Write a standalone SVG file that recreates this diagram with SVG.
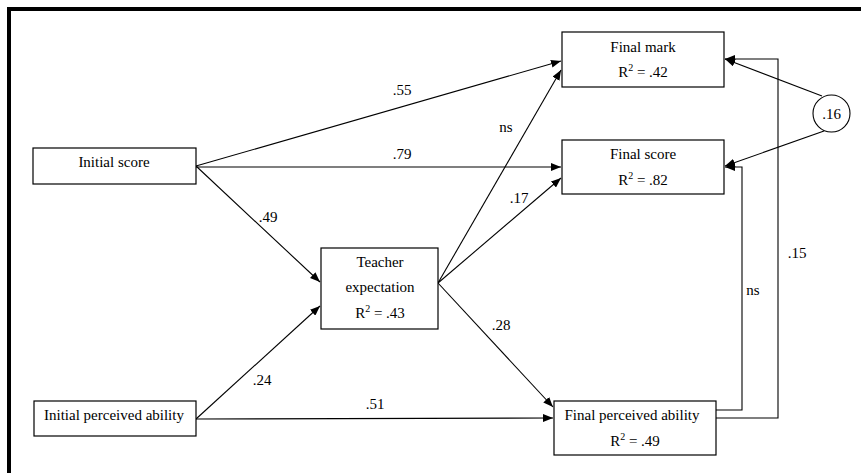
<svg xmlns="http://www.w3.org/2000/svg" width="861" height="473" viewBox="0 0 861 473">
<style>
.box{fill:#fff;stroke:#000;stroke-width:1.2}
.t{font-family:"Liberation Serif","Times New Roman",serif;font-size:15px;fill:#000}
.c{text-anchor:middle}
.ln{fill:none;stroke:#000;stroke-width:1.1}
.sup{font-size:10px}
</style>
<defs>
<marker id="ah" markerUnits="userSpaceOnUse" markerWidth="10" markerHeight="8" refX="10" refY="4" orient="auto">
<path d="M0,0 L10,4 L0,8 z" fill="#000"/>
</marker>
</defs>
<rect width="861" height="473" fill="#fff"/>
<path d="M9,473 V9 H861" fill="none" stroke="#000" stroke-width="4"/>
<g id="connectors">
<line class="ln" x1="196" y1="166" x2="561" y2="61" marker-end="url(#ah)"/>
<line class="ln" x1="196" y1="167" x2="561" y2="167" marker-end="url(#ah)"/>
<line class="ln" x1="196" y1="166" x2="320" y2="282" marker-end="url(#ah)"/>
<line class="ln" x1="196" y1="419" x2="320" y2="306" marker-end="url(#ah)"/>
<line class="ln" x1="196" y1="419" x2="553" y2="418" marker-end="url(#ah)"/>
<line class="ln" x1="438" y1="283" x2="561" y2="70" marker-end="url(#ah)"/>
<line class="ln" x1="438" y1="283" x2="561" y2="178" marker-end="url(#ah)"/>
<line class="ln" x1="438" y1="283" x2="553" y2="407" marker-end="url(#ah)"/>
<line class="ln" x1="822" y1="96" x2="725" y2="59" marker-end="url(#ah)"/>
<line class="ln" x1="824" y1="131" x2="725" y2="166" marker-end="url(#ah)"/>
<polyline class="ln" points="716,410 742,410 742,167 725,167" marker-end="url(#ah)"/>
<polyline class="ln" points="716,418 778,418 778,59 725,59" marker-end="url(#ah)"/>
<text class="t c" x="402" y="95">.55</text>
<text class="t c" x="402" y="159">.79</text>
<text class="t c" x="506" y="132">ns</text>
<text class="t c" x="268" y="222">.49</text>
<text class="t c" x="519" y="203">.17</text>
<text class="t c" x="501" y="330">.28</text>
<text class="t c" x="262" y="385">.24</text>
<text class="t c" x="375" y="409">.51</text>
<text class="t c" x="753" y="295">ns</text>
<text class="t c" x="797" y="258">.15</text>
</g>
<g id="initial-score">
<rect class="box" x="33" y="148" width="163" height="36"/>
<text class="t c" x="114" y="167">Initial score</text>
</g>
<g id="initial-perceived-ability">
<rect class="box" x="34" y="401" width="162" height="35"/>
<text class="t c" x="114" y="420">Initial perceived ability</text>
</g>
<g id="teacher-expectation">
<rect class="box" x="321" y="248" width="117" height="81"/>
<text class="t c" x="380" y="267">Teacher</text>
<text class="t c" x="380" y="292">expectation</text>
<text class="t c" x="380" y="318">R<tspan class="sup" dy="-6">2</tspan><tspan dy="6"> = .43</tspan></text>
</g>
<g id="final-mark">
<rect class="box" x="562" y="32" width="162" height="55"/>
<text class="t c" x="643" y="52">Final mark</text>
<text class="t c" x="643" y="77">R<tspan class="sup" dy="-6">2</tspan><tspan dy="6"> = .42</tspan></text>
</g>
<g id="final-score">
<rect class="box" x="562" y="140" width="162" height="54"/>
<text class="t c" x="643" y="159">Final score</text>
<text class="t c" x="643" y="185">R<tspan class="sup" dy="-6">2</tspan><tspan dy="6"> = .82</tspan></text>
</g>
<g id="final-perceived-ability">
<rect class="box" x="554" y="401" width="162" height="54"/>
<text class="t c" x="632" y="420">Final perceived ability</text>
<text class="t c" x="635" y="446">R<tspan class="sup" dy="-6">2</tspan><tspan dy="6"> = .49</tspan></text>
</g>
<g id="residual-corr">
<circle cx="831.5" cy="113.5" r="18.5" fill="#fff" stroke="#000" stroke-width="1.1"/>
<text class="t c" x="831.5" y="118.5">.16</text>
</g>
</svg>
